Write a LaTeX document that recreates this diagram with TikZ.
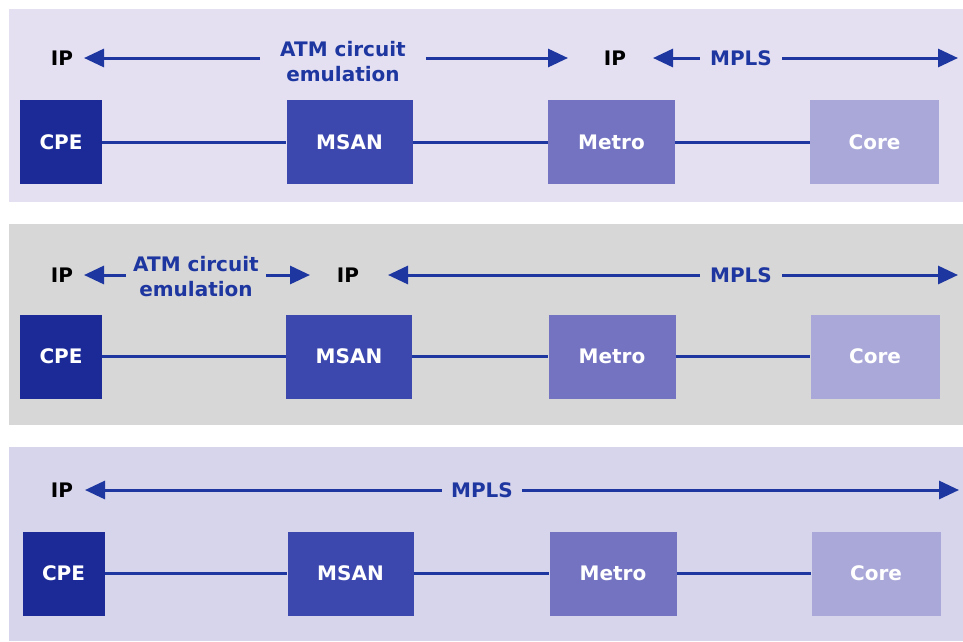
\documentclass[tikz,border=0pt]{standalone}
\usepackage{fontspec}
\setmainfont{DejaVu Sans}
\usetikzlibrary{arrows.meta}
\definecolor{navy}{HTML}{1E36A0}
\definecolor{cpec}{HTML}{1B2A96}
\definecolor{msanc}{HTML}{3C48AE}
\definecolor{metroc}{HTML}{7373C2}
\definecolor{corec}{HTML}{A9A8D9}
\definecolor{bgA}{HTML}{E4E0F2}
\definecolor{bgB}{HTML}{D7D7D7}
\definecolor{bgC}{HTML}{D6D5EB}
\newcommand\labfont{\fontsize{20}{25}\selectfont\bfseries}
\begin{document}
\begin{tikzpicture}[x=1pt,y=-1pt,
  box/.style={rectangle, minimum height=84pt, text=white, font=\labfont, inner sep=0pt},
  cpebox/.style={box, fill=cpec, minimum width=82pt},
  msanbox/.style={box, fill=msanc, minimum width=126pt},
  metrobox/.style={box, fill=metroc, minimum width=127pt},
  corebox/.style={box, fill=corec, minimum width=129pt},
  iplab/.style={font=\labfont, text=black, inner sep=0pt},
  proto/.style={font=\labfont, text=navy, align=center, inner ysep=0pt},
  conn/.style={draw=navy, line width=3pt},
  arr/.style={draw=navy, line width=3pt, -{Triangle[length=20pt,width=18pt]}}
]
\useasboundingbox (0,0) rectangle (963,641);
% panels
\fill[bgA] (9,9) rectangle (963,202);
\fill[bgB] (9,224) rectangle (963,425);
\fill[bgC] (9,447) rectangle (963,641);

% ---------- row 1 ----------
\node[cpebox] (cpe1) at (61,142) {CPE};
\node[msanbox] (msan1) at (349.5,142) {MSAN};
\node[metrobox] (metro1) at (611.5,142) {Metro};
\node[corebox] (core1) at (874.5,142) {Core};
\draw[conn] (cpe1) -- (msan1) -- (metro1) -- (core1);

\node[iplab] (ip1a) at (62,58) {IP};
\node[proto, inner xsep=20pt] (atm1) at (343,62) {ATM circuit\\emulation};
\coordinate (t1a) at (84,58);
\coordinate (t1b) at (568,58);
\draw[arr] (atm1.west |- t1a) -- (t1a);
\draw[arr] (atm1.east |- t1b) -- (t1b);
\node[iplab] (ip1b) at (615,58) {IP};
\node[proto, inner xsep=10pt] (mpls1) at (741,58) {MPLS};
\coordinate (t1c) at (653,58);
\coordinate (t1d) at (958,58);
\draw[arr] (mpls1.west) -- (t1c);
\draw[arr] (mpls1.east) -- (t1d);

% ---------- row 2 ----------
\node[cpebox] (cpe2) at (61,356.5) {CPE};
\node[msanbox] (msan2) at (349,356.5) {MSAN};
\node[metrobox] (metro2) at (612,356.5) {Metro};
\node[corebox] (core2) at (875,356.5) {Core};
\draw[conn] (cpe2) -- (msan2) -- (metro2) -- (core2);

\node[iplab] (ip2a) at (62,275) {IP};
\node[proto, inner xsep=7pt] (atm2) at (196,277) {ATM circuit\\emulation};
\coordinate (t2a) at (84,275);
\coordinate (t2b) at (310,275);
\draw[arr] (atm2.west |- t2a) -- (t2a);
\draw[arr] (atm2.east |- t2b) -- (t2b);
\node[iplab] (ip2b) at (348,275) {IP};
\node[proto, inner xsep=10pt] (mpls2) at (741,275) {MPLS};
\coordinate (t2c) at (388,275);
\coordinate (t2d) at (958,275);
\draw[arr] (mpls2.west) -- (t2c);
\draw[arr] (mpls2.east) -- (t2d);

% ---------- row 3 ----------
\node[cpebox] (cpe3) at (63.5,573.5) {CPE};
\node[msanbox] (msan3) at (350.5,573.5) {MSAN};
\node[metrobox] (metro3) at (613,573.5) {Metro};
\node[corebox] (core3) at (876,573.5) {Core};
\draw[conn] (cpe3) -- (msan3) -- (metro3) -- (core3);

\node[iplab] (ip3a) at (62,490) {IP};
\node[proto, inner xsep=9pt] (mpls3) at (482,490) {MPLS};
\coordinate (t3a) at (85,490);
\coordinate (t3b) at (959,490);
\draw[arr] (mpls3.west) -- (t3a);
\draw[arr] (mpls3.east) -- (t3b);
\end{tikzpicture}
\end{document}
